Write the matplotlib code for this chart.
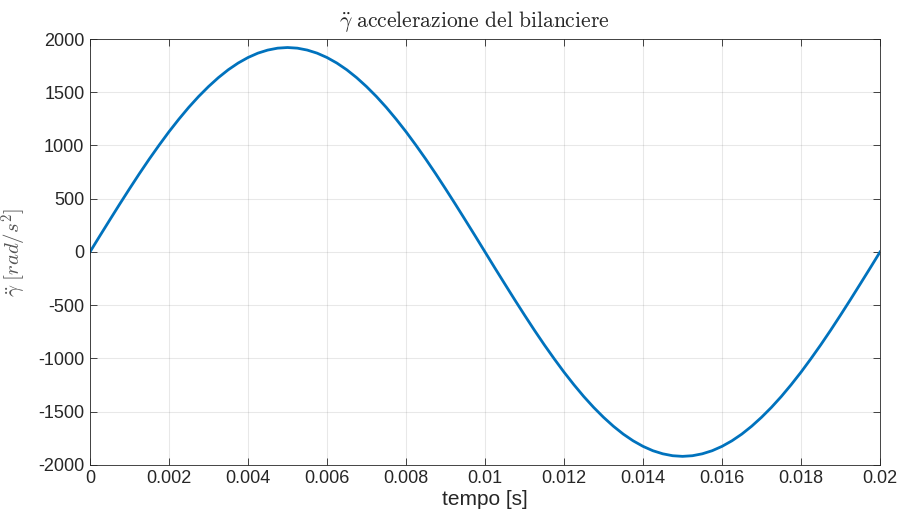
import numpy as np
import matplotlib
matplotlib.use('Agg')
import matplotlib.pyplot as plt

# values, step 0.00025 s (rising quarter, peak at 0.005 s)
tempo = np.arange(81) * 0.00025
quarter = [0, 151, 300, 448, 593, 735, 872, 1003, 1129, 1247, 1358,
           1460, 1553, 1637, 1711, 1774, 1826, 1867, 1896, 1914, 1920]
half = quarter + quarter[19::-1]
acc = np.array(half + [-v for v in half[1:]])

x_ticks = [0, 0.002, 0.004, 0.006, 0.008, 0.01, 0.012, 0.014, 0.016, 0.018, 0.02]
x_labels = ['0', '0.002', '0.004', '0.006', '0.008', '0.01', '0.012',
            '0.014', '0.016', '0.018', '0.02']
y_ticks = [-2000, -1500, -1000, -500, 0, 500, 1000, 1500, 2000]

plt.rcParams['mathtext.fontset'] = 'cm'
plt.rcParams['axes.unicode_minus'] = False
plt.rcParams['font.family'] = ['Liberation Sans', 'DejaVu Sans']

fig = plt.figure(figsize=(8.98, 5.2), dpi=100)
ax = fig.add_axes([0.1002, 0.106, 0.8798, 0.819])

ax.plot(tempo, acc, color='#0072BD', linewidth=2.0)

ax.set_xlim(0, 0.02)
ax.set_ylim(-2000, 2000)
ax.set_xticks(x_ticks)
ax.set_xticklabels(x_labels)
ax.set_yticks(y_ticks)

ax.grid(True, color='#262626', alpha=0.1, linewidth=0.8)
for s in ax.spines.values():
    s.set_color('#262626')
    s.set_linewidth(0.6)
ax.tick_params(direction='in', top=True, right=True, length=5, width=0.6,
               colors='#262626', labelsize=13, pad=4)

ax.set_xlabel('tempo [s]', fontsize=15, color='#262626', labelpad=2)
ax.set_ylabel(r'$\ddot{\gamma}\ [rad/s^2]$', fontsize=15, color='#555555',
              labelpad=2)
ax.yaxis.set_label_coords(-0.077, 0.5)
ax.set_title(r'$\ddot{\gamma}\ \mathrm{accelerazione\ del\ bilanciere}$',
             fontsize=15.5, color='#262626', pad=9, x=0.487)

fig.savefig('out.png', dpi=100)
